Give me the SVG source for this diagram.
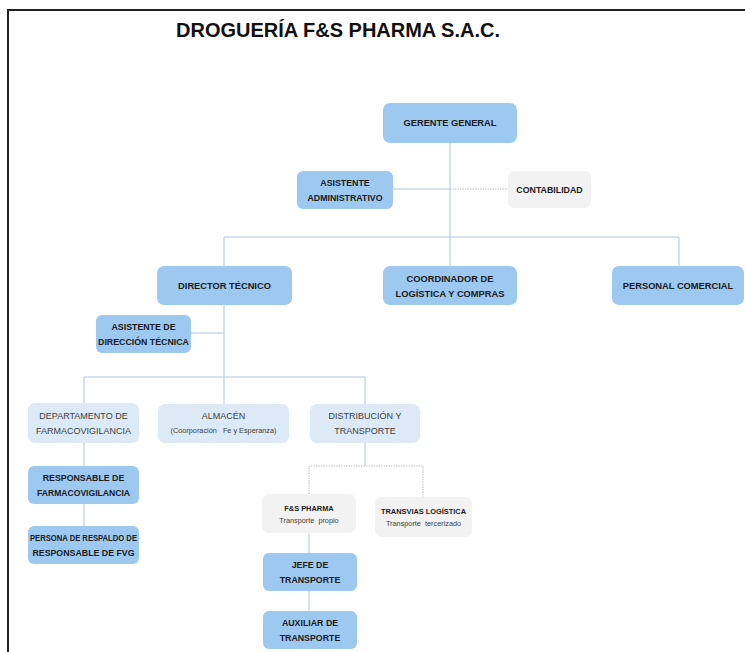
<svg xmlns="http://www.w3.org/2000/svg" width="745" height="652" viewBox="0 0 745 652">
<style>
.blue{fill:#9DC8F0}
.light{fill:#DCE9F6}
.gray{fill:#F2F2F2}
.t{font-family:"Liberation Sans",Arial,sans-serif;text-anchor:middle}
.b{font-weight:bold;font-size:8.8px;fill:#1a1a1a}
.bl{font-weight:bold;font-size:9.3px;fill:#1a1a1a}
.n{font-size:9px;fill:#404040}
.s{font-size:7.3px;fill:#404040}
.sb{font-weight:bold;font-size:7.4px;fill:#1a1a1a}
.ln{stroke:#AFC5DA;stroke-width:1;fill:none}
.dt{stroke:#BFBFBF;stroke-width:1;fill:none;stroke-dasharray:1.5 1}
</style>
<rect width="745" height="652" fill="#ffffff"/>
<path d="M8,652 V10 H745" fill="none" stroke="#222" stroke-width="2"/>
<text x="338" y="37" class="t" style="font-weight:bold;font-size:20px;fill:#111" textLength="324" lengthAdjust="spacingAndGlyphs">DROGUERÍA F&amp;S PHARMA S.A.C.</text>

<g id="connectors">
<path class="ln" d="M450,143 V266 M393,189 H450 M224,266 V237 H679 V266"/>
<path class="dt" d="M450,189 H508"/>
<path class="ln" d="M224,305 V404 M191,333 H224 M84,403 V377 H365 V404"/>
<path class="ln" d="M84,443 V466 M84,504 V526 M365,443 V466"/>
<path class="dt" d="M309,494 V466 H423 V497"/>
<path class="ln" d="M309,533 V553 M309,591 V611"/>
</g>

<g id="gerente-general"><rect class="blue" x="383" y="103" width="134" height="40" rx="7"/><text class="t bl" x="450" y="126">GERENTE GENERAL</text></g>
<g id="asistente-administrativo"><rect class="blue" x="297" y="171" width="96" height="38" rx="6"/><text class="t b" x="345" y="186">ASISTENTE</text><text class="t b" x="345" y="201">ADMINISTRATIVO</text></g>
<g id="contabilidad"><rect class="gray" x="508" y="171" width="83" height="37" rx="6"/><text class="t b" x="549.5" y="192.5">CONTABILIDAD</text></g>
<g id="director-tecnico"><rect class="blue" x="157" y="266" width="135" height="39" rx="7"/><text class="t bl" x="224.5" y="289">DIRECTOR TÉCNICO</text></g>
<g id="coordinador"><rect class="blue" x="383" y="266" width="134" height="39" rx="7"/><text class="t bl" x="450" y="282">COORDINADOR DE</text><text class="t bl" x="450" y="297">LOGÍSTICA Y COMPRAS</text></g>
<g id="personal-comercial"><rect class="blue" x="612" y="266" width="132" height="39" rx="7"/><text class="t bl" x="678" y="289">PERSONAL COMERCIAL</text></g>
<g id="asistente-direccion"><rect class="blue" x="96" y="315" width="95" height="38" rx="6"/><text class="t b" x="143.5" y="330">ASISTENTE DE</text><text class="t b" x="143.5" y="345">DIRECCIÓN TÉCNICA</text></g>
<g id="departamento-fvg"><rect class="light" x="28" y="403" width="111" height="40" rx="7"/><text class="t n" x="83.5" y="419">DEPARTAMENTO DE</text><text class="t n" x="83.5" y="434">FARMACOVIGILANCIA</text></g>
<g id="almacen"><rect class="light" x="158" y="404" width="131" height="39" rx="7"/><text class="t n" x="223.5" y="419">ALMACÉN</text><text class="t s" x="223.5" y="433" xml:space="preserve">(Coorporación   Fe y Esperanza)</text></g>
<g id="distribucion"><rect class="light" x="310" y="404" width="110" height="39" rx="7"/><text class="t n" x="365" y="419">DISTRIBUCIÓN Y</text><text class="t n" x="365" y="434">TRANSPORTE</text></g>
<g id="responsable-fvg"><rect class="blue" x="28" y="466" width="111" height="38" rx="6"/><text class="t b" x="83.5" y="481">RESPONSABLE DE</text><text class="t b" x="83.5" y="496" textLength="93" lengthAdjust="spacingAndGlyphs">FARMACOVIGILANCIA</text></g>
<g id="persona-respaldo"><rect class="blue" x="28" y="526" width="111" height="38" rx="6"/><text class="t b" x="83.5" y="541" textLength="107" lengthAdjust="spacingAndGlyphs">PERSONA DE RESPALDO DE</text><text class="t b" x="83.5" y="556">RESPONSABLE DE FVG</text></g>
<g id="fs-pharma"><rect class="gray" x="262" y="494" width="94" height="39" rx="7"/><text class="t sb" x="309" y="511">F&amp;S PHARMA</text><text class="t s" x="309" y="523" xml:space="preserve">Transporte  propio</text></g>
<g id="transvias"><rect class="gray" x="375" y="497" width="97" height="40" rx="7"/><text class="t sb" x="423.5" y="514">TRANSVIAS LOGÍSTICA</text><text class="t s" x="423.5" y="526" xml:space="preserve">Transporte  tercerizado</text></g>
<g id="jefe-transporte"><rect class="blue" x="263" y="553" width="94" height="38" rx="6"/><text class="t b" x="310" y="568">JEFE DE</text><text class="t b" x="310" y="583">TRANSPORTE</text></g>
<g id="auxiliar-transporte"><rect class="blue" x="263" y="611" width="94" height="38" rx="6"/><text class="t b" x="310" y="626">AUXILIAR DE</text><text class="t b" x="310" y="641">TRANSPORTE</text></g>
</svg>
